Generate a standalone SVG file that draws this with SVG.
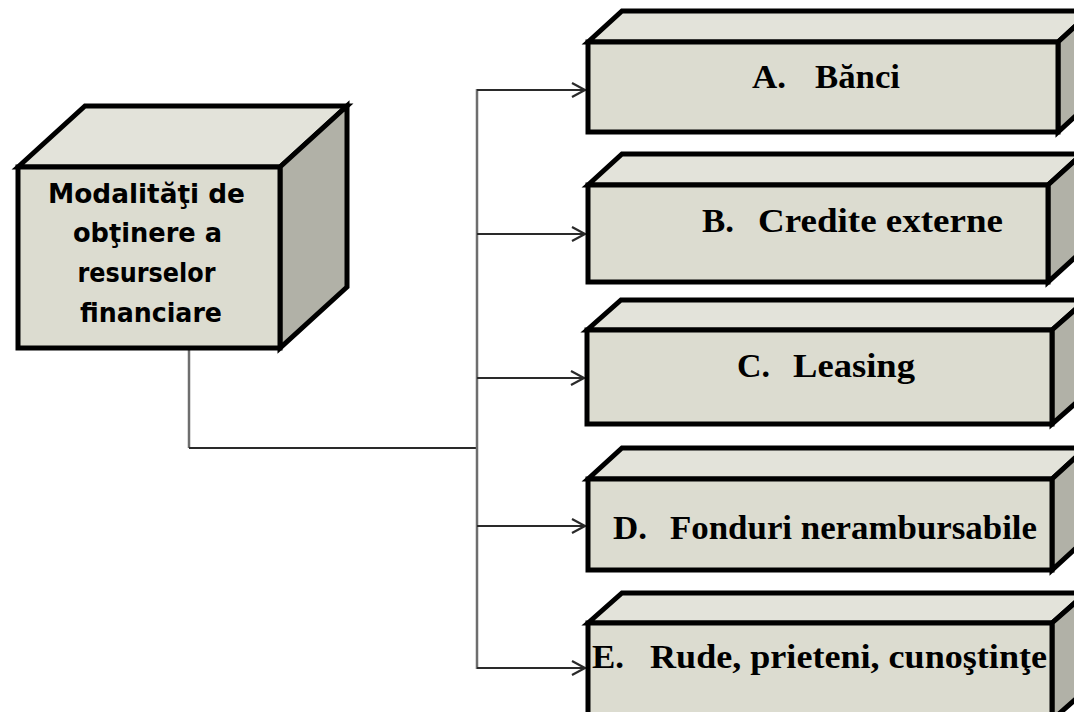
<svg xmlns="http://www.w3.org/2000/svg" width="1074" height="712" viewBox="0 0 1074 712">
<defs>
<style>
.front{fill:#dcdcd0;stroke:#000;stroke-width:5;stroke-linejoin:miter}
.top{fill:#e3e3da;stroke:#000;stroke-width:5;stroke-linejoin:miter}
.side{fill:#b1b1a7;stroke:#000;stroke-width:5;stroke-linejoin:miter}
.lbl{font-family:"Liberation Serif","Times New Roman",serif;font-weight:bold;font-size:33px;fill:#000}
.main{font-family:"DejaVu Sans",Verdana,sans-serif;font-weight:bold;font-size:26px;fill:#000}
.vline{fill:none;stroke:#6e6e6e;stroke-width:2.5}
.hline{fill:none;stroke:#2a2a2a;stroke-width:2}
</style>
<marker id="arr" markerUnits="userSpaceOnUse" markerWidth="20" markerHeight="20" viewBox="-16 -10 20 20" refX="0" refY="0" orient="auto">
<polyline points="-13,-7 0,0 -13,7" fill="none" stroke="#2a2a2a" stroke-width="2.2"/>
</marker>
</defs>
<rect width="1074" height="712" fill="#fff"/>

<g id="connectors">
<polyline class="vline" points="189,350 189,448"/>
<line class="hline" x1="189" y1="448" x2="477" y2="448"/>
<line class="vline" x1="477" y1="89" x2="477" y2="669"/>
<line class="hline" x1="477" y1="90" x2="585" y2="90" marker-end="url(#arr)"/>
<line class="hline" x1="477" y1="234" x2="585" y2="234" marker-end="url(#arr)"/>
<line class="hline" x1="477" y1="378" x2="584" y2="378" marker-end="url(#arr)"/>
<line class="hline" x1="477" y1="526" x2="585" y2="526" marker-end="url(#arr)"/>
<line class="hline" x1="477" y1="668" x2="585" y2="668" marker-end="url(#arr)"/>
</g>

<g id="main">
<polygon class="top" points="18,167 85,106 347,106 280,167"/>
<polygon class="side" points="280,167 347,106 347,287 280,348"/>
<rect class="front" x="18" y="167" width="262" height="181"/>
<text class="main" text-anchor="middle">
<tspan x="151" y="203" textLength="197" lengthAdjust="spacingAndGlyphs">Modalităţi de</tspan>
<tspan x="152" y="242" textLength="149" lengthAdjust="spacingAndGlyphs">obţinere a</tspan>
<tspan x="151" y="282" textLength="138" lengthAdjust="spacingAndGlyphs">resurselor</tspan>
<tspan x="151" y="322" textLength="142" lengthAdjust="spacingAndGlyphs">financiare</tspan>
</text>
</g>

<g id="boxA">
<polygon class="top" points="588,42 622,11 1092,11 1058,42"/>
<polygon class="side" points="1058,42 1092,11 1092,101 1058,132"/>
<rect class="front" x="588" y="42" width="470" height="90"/>
<text class="lbl"><tspan x="752" y="88" textLength="34" lengthAdjust="spacingAndGlyphs">A.</tspan><tspan x="815" y="88" textLength="85" lengthAdjust="spacingAndGlyphs">Bănci</tspan></text>
</g>

<g id="boxB">
<polygon class="top" points="588,185 622,154 1082,154 1048,185"/>
<polygon class="side" points="1048,185 1082,154 1082,251 1048,282"/>
<rect class="front" x="588" y="185" width="460" height="97"/>
<text class="lbl"><tspan x="702" y="232" textLength="32" lengthAdjust="spacingAndGlyphs">B.</tspan><tspan x="758" y="232" textLength="245" lengthAdjust="spacingAndGlyphs">Credite externe</tspan></text>
</g>

<g id="boxC">
<polygon class="top" points="587,330 621,300 1086,300 1052,330"/>
<polygon class="side" points="1052,330 1086,300 1086,394 1052,424"/>
<rect class="front" x="587" y="330" width="465" height="94"/>
<text class="lbl"><tspan x="737" y="377" textLength="33" lengthAdjust="spacingAndGlyphs">C.</tspan><tspan x="793" y="377" textLength="122" lengthAdjust="spacingAndGlyphs">Leasing</tspan></text>
</g>

<g id="boxD">
<polygon class="top" points="588,479 622,448 1086,448 1052,479"/>
<polygon class="side" points="1052,479 1086,448 1086,539 1052,570"/>
<rect class="front" x="588" y="479" width="464" height="91"/>
<text class="lbl"><tspan x="613" y="539" textLength="34" lengthAdjust="spacingAndGlyphs">D.</tspan><tspan x="670" y="539" textLength="367" lengthAdjust="spacingAndGlyphs">Fonduri nerambursabile</tspan></text>
</g>

<g id="boxE">
<polygon class="top" points="588,623 622,593 1086,593 1052,623"/>
<polygon class="side" points="1052,623 1086,593 1086,690 1052,720"/>
<rect class="front" x="588" y="623" width="464" height="97"/>
<text class="lbl"><tspan x="592" y="668" textLength="32" lengthAdjust="spacingAndGlyphs">E.</tspan><tspan x="650" y="668" textLength="397" lengthAdjust="spacingAndGlyphs">Rude, prieteni, cunoştinţe</tspan></text>
</g>
</svg>
